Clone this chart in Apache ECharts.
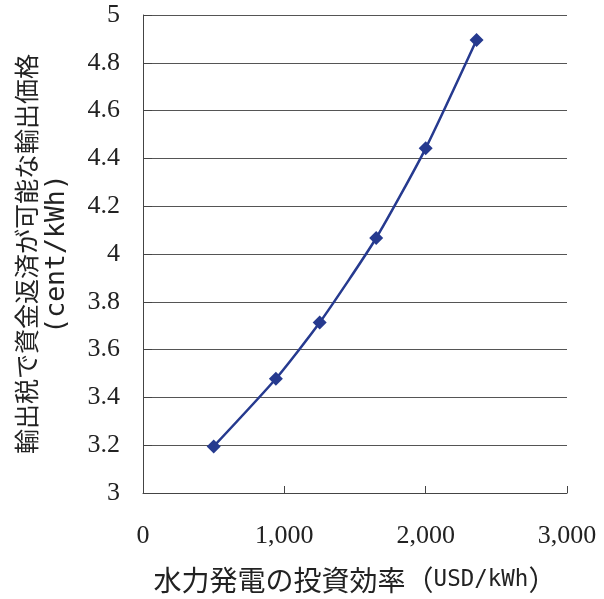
<!DOCTYPE html>
<html>
<head>
<meta charset="utf-8">
<script src="https://cdn.jsdelivr.net/npm/echarts@6/dist/echarts.min.js"></script>
<style>
  html, body { margin: 0; padding: 0; background: #fff; }
  #chart { width: 604px; height: 599px; }
</style>
</head>
<body>
<div id="chart"></div>
<script>
// Investment efficiency of hydro power (USD/kWh)
const investEfficiency = [500, 940, 1250, 1650, 2000, 2360];
// Export price that allows repayment through export tax (cent/kWh)
const exportPrice = [3.195, 3.478, 3.713, 4.067, 4.442, 4.895];

const serif = '"Liberation Serif", "DejaVu Serif", serif';
const cjk = '"Noto Sans CJK JP", sans-serif';
const mono = '"DejaVu Sans Mono", monospace';
const ink = '#222';

const chart = echarts.init(document.getElementById('chart'));
chart.setOption({
  animation: false,
  backgroundColor: '#fff',
  grid: {
    left: 143, right: 37, top: 15, bottom: 106,
    containLabel: false, outerBoundsMode: 'none'
  },
  xAxis: {
    type: 'value',
    min: 0, max: 3000, interval: 1000,
    name: '{c|水力発電の投資効率（}{m|USD/kWh}{c|）}',
    nameLocation: 'middle',
    nameGap: 73,
    nameTextStyle: {
      color: ink,
      rich: {
        c: { fontFamily: cjk, fontSize: 28, color: ink },
        m: { fontFamily: mono, fontSize: 22.5, color: ink }
      }
    },
    axisLine: { show: true, lineStyle: { color: '#444', width: 1 } },
    axisTick: { show: true, inside: true, length: 7, lineStyle: { color: '#444' } },
    axisLabel: {
      margin: 30, fontFamily: serif, fontSize: 26, color: ink,
      formatter: v => v.toLocaleString('en-US')
    },
    splitLine: { show: false }
  },
  yAxis: {
    type: 'value',
    min: 3, max: 5, interval: 0.2,
    name: '{c|輸出税で資金返済が可能な輸出価格}\n{m|(cent/kWh)}',
    nameLocation: 'middle',
    nameGap: 70,
    nameRotate: 90,
    nameTextStyle: {
      color: ink,
      rich: {
        c: { fontFamily: cjk, fontSize: 25, color: ink, lineHeight: 31 },
        m: { fontFamily: mono, fontSize: 26.5, color: ink, lineHeight: 31 }
      }
    },
    axisLine: { show: true, lineStyle: { color: '#444', width: 1 } },
    axisTick: { show: true, inside: true, length: 9, lineStyle: { color: '#444' } },
    axisLabel: {
      margin: 23, fontFamily: serif, fontSize: 26, color: ink,
      formatter: v => String(Math.round(v * 10) / 10)
    },
    splitLine: { show: true, lineStyle: { color: '#555', width: 1 } }
  },
  series: [{
    type: 'line',
    data: investEfficiency.map((x, i) => [x, exportPrice[i]]),
    smooth: 0.2,
    symbol: 'diamond',
    symbolSize: 14,
    itemStyle: { color: '#263a8f' },
    lineStyle: { color: '#263a8f', width: 2.5 }
  }]
});
</script>
</body>
</html>
